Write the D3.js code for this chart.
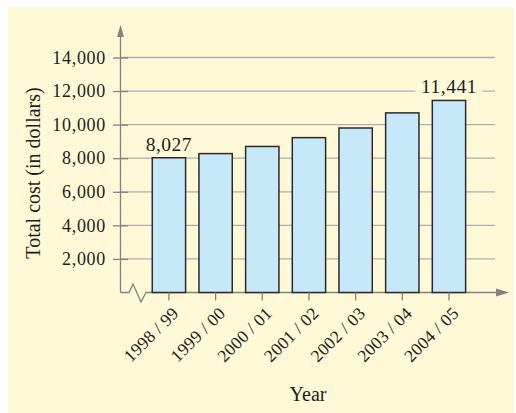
<!DOCTYPE html>
<html>
<head>
<meta charset="utf-8">
<script src="https://cdn.jsdelivr.net/npm/d3@7"></script>
<style>
  body { margin: 0; background: #fff; }
  text { font-family: "Liberation Serif", "DejaVu Serif", serif; fill: #1f1c1d; }
</style>
</head>
<body>
<script>
// Chart data
const years = ["1998 / 99", "1999 / 00", "2000 / 01", "2001 / 02", "2002 / 03", "2003 / 04", "2004 / 05"];
const costs = [8027, 8275, 8700, 9225, 9800, 10700, 11441];
const yTicks = [2000, 4000, 6000, 8000, 10000, 12000, 14000];
const labelled = ["1998 / 99", "2004 / 05"];

const width = 516, height = 413;

const svg = d3.select("body")
    .append("svg")
    .attr("width", width)
    .attr("height", height);

// cream panel
svg.append("rect")
    .attr("x", 8).attr("y", 7)
    .attr("width", 506).attr("height", 406)
    .attr("fill", "#fff9d7");

const x = d3.scaleBand()
    .domain(years)
    .range([145.6, 472.3])
    .paddingInner(0.286)
    .paddingOuter(0.143);

const y = d3.scaleLinear()
    .domain([0, 14000])
    .range([292.5, 57.5]);

const axisX0 = 120.5;

// gridlines
svg.append("g")
    .selectAll("line")
    .data(yTicks)
    .enter()
    .append("line")
    .attr("x1", axisX0)
    .attr("x2", 495)
    .attr("y1", d => y(d))
    .attr("y2", d => y(d))
    .attr("stroke", "#aeaeae")
    .attr("stroke-width", 1.3);

// y axis ticks + labels (ticks cross the axis line)
const yAxis = svg.append("g")
    .attr("transform", "translate(128,0)")
    .call(d3.axisLeft(y).tickValues(yTicks).tickSize(15).tickPadding(7).tickFormat(d3.format(",")));
yAxis.select(".domain").remove();
yAxis.selectAll(".tick line").attr("stroke", "#808285").attr("stroke-width", 1.3);
yAxis.selectAll("text")
    .attr("font-size", 18)
    .attr("letter-spacing", 0.7)
    .attr("font-family", "Liberation Serif, serif")
    .attr("fill", "#1f1c1d");

// y axis line with arrow
svg.append("line")
    .attr("x1", axisX0).attr("x2", axisX0)
    .attr("y1", 292.5).attr("y2", 32)
    .attr("stroke", "#808285").attr("stroke-width", 1.3);
svg.append("path")
    .attr("d", `M${axisX0},25 L${axisX0 - 3.5},37 L${axisX0 + 3.5},37 Z`)
    .attr("fill", "#808285");

// x axis line with break and arrow
svg.append("path")
    .attr("d", `M${axisX0},292.5 L129,292.5 L133,284 L141,302 L146,292.5 L500,292.5`)
    .attr("fill", "none")
    .attr("stroke", "#808285").attr("stroke-width", 1.3);
svg.append("path")
    .attr("d", "M509,292.5 L496,288.5 L496,296.5 Z")
    .attr("fill", "#808285");

// bars
svg.append("g")
    .selectAll("rect")
    .data(years)
    .enter()
    .append("rect")
    .attr("x", d => x(d))
    .attr("width", x.bandwidth())
    .attr("y", (d, i) => y(costs[i]))
    .attr("height", (d, i) => y(0) - y(costs[i]))
    .attr("fill", "#c6e8f8")
    .attr("stroke", "#2b2b2b")
    .attr("stroke-width", 1.5);

// x ticks and rotated labels
const xg = svg.append("g")
    .attr("transform", "translate(0,292.5)")
    .call(d3.axisBottom(x).tickSize(8));
xg.select(".domain").remove();
xg.selectAll(".tick line").attr("stroke", "#808285").attr("stroke-width", 1.3);
xg.selectAll("text")
    .attr("font-size", 17.5)
    .attr("letter-spacing", 0.3)
    .attr("font-family", "Liberation Serif, serif")
    .attr("fill", "#1f1c1d")
    .attr("text-anchor", "end")
    .attr("x", 0)
    .attr("y", 0)
    .attr("dy", "0.35em")
    .attr("transform", "translate(6.5,17.5) rotate(-45)");

// value labels on first and last bars
labelled.forEach(name => {
    const i = years.indexOf(name);
    const cx = x(name) + x.bandwidth() / 2;
    const ty = y(costs[i]) - 7;
    const lbl = d3.format(",")(costs[i]);
    if (i === years.length - 1) {
        svg.append("rect")
            .attr("x", cx - 33.5).attr("y", ty - 17)
            .attr("width", 67).attr("height", 20)
            .attr("fill", "#fff9d7");
    }
    svg.append("text")
        .attr("x", cx)
        .attr("y", ty)
        .attr("text-anchor", "middle")
        .attr("font-size", 19.5)
        .attr("letter-spacing", 0.5)
        .text(lbl);
});

// axis titles
svg.append("text")
    .attr("transform", "translate(40,173) rotate(-90)")
    .attr("text-anchor", "middle")
    .attr("font-size", 20)
    .text("Total cost (in dollars)");

svg.append("text")
    .attr("x", 308)
    .attr("y", 401)
    .attr("text-anchor", "middle")
    .attr("font-size", 20)
    .text("Year");
</script>
</body>
</html>
